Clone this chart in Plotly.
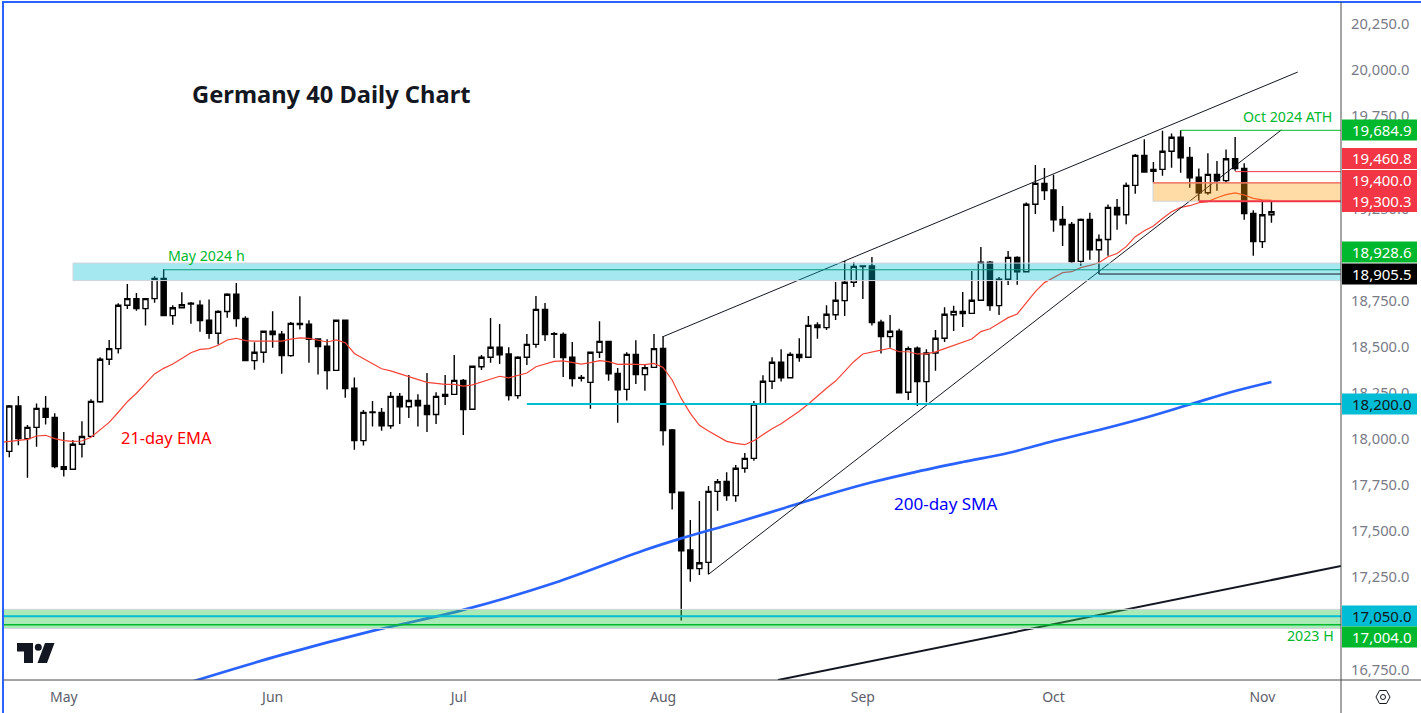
import plotly.graph_objects as go

# ---------- data (prices) ----------
opens = [17944,18190,18013,18074,18177,18128,17861,17847,17982,18025,18213,18443,18501,18736,18772,18718,18772,18881,18680,18723,18747,18736,18655,18584,18702,18796,18665,18436,18481,18595,18579,18463,18638,18633,18553,18514,18383,18655,
18287,18002,18154,18155,18083,18242,18186,18220,18193,18144,18242,18253,18329,18172,18403,18454,18508,18472,18246,18454,18524,18714,18578,18578,18454,18340,18318,18481,18540,18367,18280,18470,18360,18399,18502,
18060,17722,17409,17308,17342,17727,17781,17704,17852,17906,18201,18324,18427,18343,18470,18454,18629,18615,18685,18761,18861,18949,18949,18644,18566,18595,18264,18503,18322,18477,18557,18685,18703,18692,18763,18969,18734,18877,18996,18918,19284,19397,19361,19202,19175,
18974,19202,19037,19093,19267,19227,19386,19549,19462,19473,19571,19647,19538,19430,19346,19446,19412,19531,19478,19234,19081,19227]
highs = [18195,18244,18087,18204,18244,18150,18049,18006,18107,18226,18454,18548,18747,18852,18803,18774,18893,18931,18736,18806,18754,18763,18768,18709,18801,18857,18676,18535,18597,18703,18597,18645,18785,18655,18557,18552,18655,18655,
18345,18168,18217,18179,18266,18260,18358,18253,18369,18264,18358,18466,18336,18405,18466,18667,18634,18508,18459,18580,18786,18748,18591,18589,18537,18358,18481,18649,18540,18396,18481,18546,18416,18580,18569,
18065,17723,17572,17675,17756,17794,17830,17870,17935,18217,18356,18454,18497,18481,18557,18678,18644,18736,18862,18976,18969,18953,18998,18658,18683,18609,18513,18513,18497,18602,18725,18734,18808,18922,19052,18976,18889,19030,19002,19294,19497,19481,19444,19275,19188,
19206,19238,19120,19283,19312,19402,19556,19637,19513,19683,19668,19685,19594,19478,19560,19518,19581,19648,19506,19251,19307,19298]
lows = [17912,17977,17801,17969,18089,17852,17807,17843,17910,18024,18208,18412,18474,18716,18707,18626,18750,18680,18631,18721,18636,18593,18555,18523,18669,18620,18434,18387,18425,18506,18365,18457,18604,18425,18360,18279,18382,18235,
17953,17975,18078,18056,18067,18092,18125,18078,18049,18092,18195,18251,18032,18172,18385,18425,18417,18219,18229,18412,18506,18542,18450,18347,18295,18323,18175,18450,18327,18099,18219,18309,18273,18398,17975,
17628,17026,17237,17273,17277,17622,17676,17671,17828,17893,18201,18282,18322,18343,18430,18454,18555,18602,18656,18678,18835,18770,18626,18474,18506,18262,18222,18190,18210,18381,18537,18597,18618,18691,18761,18707,18683,18846,18848,18915,19231,19307,19135,19058,18965,
18951,18983,18905,19005,19146,19176,19341,19455,19402,19439,19482,19455,19374,19303,19336,19357,19401,19466,19200,19005,19046,19184]
closes = [18190,18013,18074,18177,18128,17861,17847,17982,18024,18215,18443,18501,18736,18772,18718,18772,18881,18680,18723,18739,18743,18653,18584,18703,18796,18664,18436,18481,18595,18577,18463,18638,18631,18552,18512,18382,18655,18284,
18002,18155,18157,18083,18242,18186,18220,18191,18143,18242,18253,18329,18170,18405,18454,18508,18468,18246,18454,18524,18714,18577,18582,18452,18338,18345,18481,18540,18365,18278,18470,18360,18398,18501,18056,
17720,17405,17308,17340,17727,17779,17704,17852,17906,18201,18324,18427,18343,18470,18452,18627,18615,18687,18763,18861,18947,18946,18642,18566,18595,18262,18501,18322,18477,18557,18687,18703,18691,18763,18969,18734,18877,18996,18918,19284,19397,19358,19199,19173,18973,
19202,19037,19093,19267,19227,19386,19549,19459,19473,19571,19647,19536,19428,19346,19446,19412,19531,19478,19233,19081,19227,19243]

# 21-day EMA, one reading per bar, the first one just before bar 0
ema21 = [17992,17997,18002,18009,18027,18031,18013,18002,17998,18000,18020,18060,18101,18156,18213,18259,18313,18364,18394,18418,18447,18479,18497,18501,18519,18548,18557,18544,18542,18542,18546,18542,18552,18559,18557,18548,18537,18548,18533,
18475,18448,18421,18392,18380,18365,18349,18332,18318,18313,18307,18307,18298,18304,18320,18338,18351,18342,18354,18369,18403,18419,18432,18434,18425,18417,18425,18436,18430,18416,18417,18414,18414,18421,18399,
18331,18231,18150,18085,18054,18024,17998,17987,17980,18002,18036,18067,18094,18128,18161,18201,18246,18286,18325,18376,18430,18472,18484,18493,18503,18484,18484,18472,18472,18483,18501,18519,18533,18553,18593,18609,18638,18669,18689,18750,18810,18859,18888,18913,18918,
18940,18952,18967,18999,19017,19054,19108,19140,19166,19207,19243,19267,19276,19292,19298,19319,19336,19346,19334,19316,19308,19305]

# 200-day SMA readings (bar number, price)
sma_bar = [20,30,40,50,60,70,74,80,85,90,95,100,105,110,115,120,125,130,135,139]
sma200 = [16693,16840,16970,17084,17230,17409,17472,17557,17631,17707,17776,17834,17886,17935,18000,18060,18125,18198,18271,18320]

# trend lines (bar number, price)
upper_bar, upper_price = [72,141.9],[18566,20001]
lower_bar, lower_price = [77,140.1],[17277,19687]
long_bar, long_price = [84.66,146.66],[16704,17322]

price_ticks = [16750,17250,17500,17750,18000,18250,18500,18750,19250,19750,20000,20250]
month_labels = ["May","Jun","Jul","Aug","Sep","Oct","Nov"]
month_bars = [6,29,49.5,72,94,115,138]

GRAY="#787b86"; AX="#4a4a4a"; GREEN="#00b82e"; RED="#f23645"; CYAN="#00bcd4"
FONT="Noto Sans"
W,H=1421,713; L,R,T,B=3,1341,0,680
bar0=-0.694; bar1=146.66
ymin=18000+(441-680)/0.1844; ymax=18000+441/0.1844
def px(x): return (x-L)/(R-L)
def py(y): return 1-(y-T)/(B-T)
def barx(p): return (p-9.3)/9.08

fig=go.Figure()
bars=list(range(len(opens)))
fig.add_trace(go.Candlestick(x=bars,open=opens,high=highs,low=lows,close=closes,whiskerwidth=0,
    increasing=dict(line=dict(color="#000000",width=1.4),fillcolor="#ffffff"),
    decreasing=dict(line=dict(color="#000000",width=1.4),fillcolor="#000000"),showlegend=False))
fig.add_trace(go.Scatter(x=[-1]+bars,y=ema21,mode="lines",line=dict(color="#f44336",width=1.2),showlegend=False))
fig.add_trace(go.Scatter(x=sma_bar,y=sma200,mode="lines",line=dict(color="#2962ff",width=2.7,shape="spline"),showlegend=False))
for xs,ys,w in [(upper_bar,upper_price,1),(lower_bar,lower_price,1),(long_bar,long_price,2)]:
    fig.add_trace(go.Scatter(x=xs,y=ys,mode="lines",line=dict(color="#131722",width=w),showlegend=False))

shapes=[]
def zone(x0,x1,y0,y1,fill,border="#d1d4dc"):
    shapes.append(dict(type="rect",xref="x",yref="y",x0=x0,x1=x1,y0=y0,y1=y1,fillcolor=fill,line=dict(color=border,width=1),layer="above"))
def hline(x0,v,color,w):
    shapes.append(dict(type="line",xref="x",yref="y",x0=x0,x1=bar1,y0=v,y1=v,line=dict(color=color,width=w),layer="above"))
zone(barx(73),bar1,18965,18870,"rgba(0,188,212,0.35)")
zone(barx(1153),bar1,19400,19300.3,"rgba(255,152,0,0.35)")
zone(bar0,bar1,17087,16983,"rgba(50,205,80,0.42)")
hline(17,18928.6,"#089981",1)
hline(120,18905.5,"#131722",1)
hline(129,19684.9,GREEN,1)
hline(135,19460.8,RED,1)
hline(barx(1153),19400,"#f7604a",1.3)
hline(131,19300.3,RED,2)
hline(57,18200,CYAN,2)
hline(bar0,17050,CYAN,2)
hline(bar0,17004,GREEN,1.5)
# frame
shapes.append(dict(type="line",xref="paper",yref="paper",x0=px(3),x1=px(3),y0=py(1),y1=py(713),line=dict(color="#2962ff",width=2)))
shapes.append(dict(type="line",xref="paper",yref="paper",x0=px(2),x1=px(1421),y0=py(2),y1=py(2),line=dict(color="#2962ff",width=2)))
shapes.append(dict(type="line",xref="paper",yref="paper",x0=px(1341),x1=px(1341),y0=py(2),y1=py(713),line=dict(color=AX,width=1)))
shapes.append(dict(type="line",xref="paper",yref="paper",x0=px(3),x1=px(1421),y0=py(680),y1=py(680),line=dict(color=AX,width=1)))
def poly(pts,fill="#131722",line=None):
    d="M "+" L ".join(f"{px(a):.6f},{py(b):.6f}" for a,b in pts)+" Z"
    shapes.append(dict(type="path",xref="paper",yref="paper",path=d,fillcolor=fill,line=dict(color=line or fill,width=1 if line else 0)))
# logo
poly([(17,643),(33,643),(33,663),(24,663),(24,651.5),(17,651.5)])
poly([(45,643),(54.5,643),(47,663),(37.5,663)])
shapes.append(dict(type="circle",xref="paper",yref="paper",x0=px(34.8),x1=px(41.8),y0=py(650.8),y1=py(643.8),fillcolor="#131722",line=dict(width=0)))
# settings hexagon
poly([(1376,697),(1379.5,690.5),(1386.5,690.5),(1390,697),(1386.5,703.5),(1379.5,703.5)],fill="rgba(0,0,0,0)",line="#131722")
shapes.append(dict(type="circle",xref="paper",yref="paper",x0=px(1380.5),x1=px(1385.5),y0=py(699.5),y1=py(694.5),line=dict(color="#131722",width=1)))

ann=[]
def text(x,y,t,color,size,bold=False,anchor="center"):
    ann.append(dict(xref="paper",yref="paper",x=px(x),y=py(y),text=f"<b>{t}</b>" if bold else t,showarrow=False,
        font=dict(family=FONT,size=size,color=color),xanchor=anchor,yanchor="middle",align=anchor))
text(331,94,"Germany 40 Daily Chart","#131722",23.7,True)
text(166,437,"21-day EMA","#ff0000",16.4)
text(945.5,503,"200-day SMA","#0000ff",17)
text(206.5,255.5,"May 2024 h",GREEN,14.2)
text(1287,116.5,"Oct 2024 ATH",GREEN,14.2)
text(1310,635.5,"2023 H",GREEN,14.2)
def pill(yc,t,bg,fg="#ffffff"):
    shapes.append(dict(type="rect",xref="paper",yref="paper",x0=px(1342),x1=px(1417),y0=py(yc-10.5),y1=py(yc+10.5),fillcolor=bg,line=dict(width=0),layer="above"))
    text(1381.5,yc-0.5,t,fg,15)
for yc,t,bg,fg in [(130,"19,684.9",GREEN,"#ffffff"),(158.5,"19,460.8",RED,"#ffffff"),(180.5,"19,400.0",RED,"#ffffff"),
    (201.5,"19,300.3",RED,"#ffffff"),(252,"18,928.6",GREEN,"#ffffff"),(274,"18,905.5","#000000","#ffffff"),
    (404,"18,200.0",CYAN,"#131722"),(616,"17,050.0",CYAN,"#131722"),(637,"17,004.0",GREEN,"#ffffff")]:
    pill(yc,t,bg,fg)

fig.update_layout(width=W,height=H,margin=dict(l=L,r=W-R,t=T,b=H-B),paper_bgcolor="white",plot_bgcolor="white",
    showlegend=False,boxgap=0.2,shapes=shapes,annotations=ann,
    xaxis=dict(range=[bar0,bar1],rangeslider=dict(visible=False),showgrid=False,zeroline=False,showline=False,
        tickmode="array",tickvals=month_bars,ticktext=month_labels,ticks="",tickfont=dict(family=FONT,size=14,color="#5d606b"),ticklabelstandoff=7),
    yaxis=dict(range=[ymin,ymax],side="right",showgrid=False,zeroline=False,showline=False,
        tickmode="array",tickvals=price_ticks,ticktext=[f"{v:,.1f}" for v in price_ticks],ticks="",ticklabelshift=-2,
        tickfont=dict(family=FONT,size=14.7,color=GRAY),ticklabelstandoff=9))
fig.write_html("out.html",config=dict(displayModeBar=False),post_script="document.body.style.margin='0';document.body.style.overflow='hidden';")
